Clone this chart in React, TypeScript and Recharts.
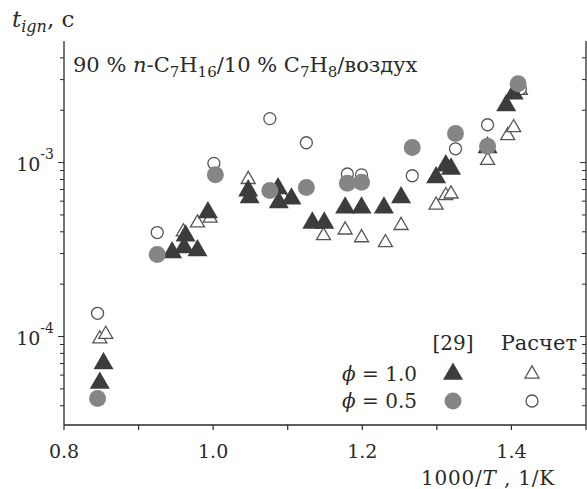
import { ScatterChart, Scatter, XAxis, YAxis } from "recharts";

// [29], phi = 1.0 (filled triangles)
const expPhi1X = [0.853, 0.848, 0.945, 0.963, 0.961, 0.979, 0.993, 1.047, 1.049, 1.087, 1.088, 1.105, 1.133, 1.149, 1.177, 1.199, 1.229, 1.252, 1.299, 1.312, 1.319, 1.368, 1.393, 1.403];
const expPhi1Y = [7.0e-5, 5.4e-5, 3.04e-4, 3.8e-4, 3.25e-4, 3.12e-4, 5.16e-4, 6.9e-4, 6.3e-4, 7.1e-4, 5.9e-4, 6.2e-4, 4.5e-4, 4.5e-4, 5.5e-4, 5.5e-4, 5.5e-4, 6.3e-4, 8.2e-4, 9.6e-4, 9.2e-4, 1.22e-3, 2.13e-3, 2.49e-3];

// [29], phi = 0.5 (filled circles)
const expPhi05X = [0.845, 0.925, 1.003, 1.076, 1.125, 1.18, 1.199, 1.267, 1.325, 1.368, 1.409];
const expPhi05Y = [4.4e-5, 2.96e-4, 8.5e-4, 6.9e-4, 7.2e-4, 7.6e-4, 7.7e-4, 1.22e-3, 1.47e-3, 1.24e-3, 2.84e-3];

// calculation, phi = 1.0 (open triangles)
const calcPhi1X = [0.848, 0.856, 0.96, 0.979, 0.996, 1.047, 1.093, 1.148, 1.177, 1.199, 1.231, 1.252, 1.299, 1.312, 1.319, 1.368, 1.395, 1.403, 1.412];
const calcPhi1Y = [9.7e-5, 1.03e-4, 4.0e-4, 4.5e-4, 4.8e-4, 8.0e-4, 6.4e-4, 3.8e-4, 4.1e-4, 3.7e-4, 3.47e-4, 4.35e-4, 5.7e-4, 6.46e-4, 6.6e-4, 1.03e-3, 1.43e-3, 1.59e-3, 2.6e-3];

// calculation, phi = 0.5 (open circles)
const calcPhi05X = [0.845, 0.925, 1.001, 1.076, 1.125, 1.18, 1.199, 1.267, 1.325, 1.368, 1.412];
const calcPhi05Y = [1.36e-4, 3.96e-4, 9.9e-4, 1.79e-3, 1.3e-3, 8.6e-4, 8.5e-4, 8.4e-4, 1.2e-3, 1.65e-3, 2.66e-3];

const xTicks = [0.8, 0.9, 1.0, 1.1, 1.2, 1.3, 1.4, 1.5];
const xLabels = [0.8, 1.0, 1.2, 1.4];
const yTicks = [4e-5, 5e-5, 6e-5, 7e-5, 8e-5, 9e-5, 1e-4, 2e-4, 3e-4, 4e-4, 5e-4, 6e-4, 7e-4, 8e-4, 9e-4, 1e-3, 2e-3, 3e-3, 4e-3];
const yMajor = [1e-4, 1e-3];

const toPoints = (xs: number[], ys: number[]) => xs.map((x, i) => ({ x, y: ys[i] }));

const FONT = "'DejaVu Serif', 'Liberation Serif', serif";
const DARK = "#3c3c3c";
const GREY = "#858585";
const LINE = "#555";
const INK = "#2a2a2a";

const tri = (cx: number, cy: number, s: number) => {
  const h = s * 0.866;
  return `${cx},${cy - (2 * h) / 3} ${cx - s / 2},${cy + h / 3} ${cx + s / 2},${cy + h / 3}`;
};

const FilledTri = (p: any) => <polygon points={tri(p.cx, p.cy, 20)} fill={DARK} />;
const OpenTri = (p: any) => <polygon points={tri(p.cx, p.cy, 14)} fill="#fff" stroke={LINE} strokeWidth={1.3} />;
const FilledDot = (p: any) => <circle cx={p.cx} cy={p.cy} r={8.5} fill={GREY} />;
const OpenDot = (p: any) => <circle cx={p.cx} cy={p.cy} r={6} fill="#fff" stroke={LINE} strokeWidth={1.3} />;

const XTick = (p: any) => {
  const v = p.payload.value;
  const show = xLabels.some((l) => Math.abs(l - v) < 1e-6);
  return (
    <g>
      <line x1={p.x} x2={p.x} y1={p.y} y2={p.y + 5} stroke={INK} strokeWidth={1.2} />
      {show && (
        <text x={p.x} y={p.y + 33} textAnchor="middle" fontFamily={FONT} fontSize={19} fill={INK}>
          {v.toFixed(1)}
        </text>
      )}
    </g>
  );
};

const YTickLeft = (p: any) => {
  const v = p.payload.value;
  const major = yMajor.some((m) => Math.abs(m - v) / m < 1e-6);
  const exp = Math.round(Math.log10(v));
  return (
    <g>
      <line x1={p.x - (major ? 6 : 4)} x2={p.x} y1={p.y} y2={p.y} stroke={INK} strokeWidth={1} />
      {major && (
        <text x={p.x - 10} y={p.y + 8} textAnchor="end" fontFamily={FONT} fontSize={19} fill={INK}>
          10
          <tspan dy={-12} fontSize={14}>
            {"-" + Math.abs(exp)}
          </tspan>
        </text>
      )}
    </g>
  );
};

const YTickRight = (p: any) => {
  const v = p.payload.value;
  const major = yMajor.some((m) => Math.abs(m - v) / m < 1e-6);
  return <line x1={p.x - (major ? 6 : 4)} x2={p.x} y1={p.y} y2={p.y} stroke={INK} strokeWidth={1} />;
};

const Overlay = () => (
  <svg width={587} height={489} style={{ position: "absolute", left: 0, top: 0, pointerEvents: "none" }}>
    <g fontFamily={FONT} fill={INK}>
      <text x={12} y={27} fontSize={23}>
        <tspan fontStyle="italic">t</tspan>
        <tspan fontStyle="italic" fontSize={16} dy={5}>ign</tspan>
        <tspan dy={-5}>, c</tspan>
      </text>
      <text x={73} y={72} fontSize={21}>
        90 % <tspan fontStyle="italic">n</tspan>-C
        <tspan fontSize={15} dy={5}>7</tspan>
        <tspan dy={-5}>H</tspan>
        <tspan fontSize={15} dy={5}>16</tspan>
        <tspan dy={-5}>/10 % C</tspan>
        <tspan fontSize={15} dy={5}>7</tspan>
        <tspan dy={-5}>H</tspan>
        <tspan fontSize={15} dy={5}>8</tspan>
        <tspan dy={-5}>/воздух</tspan>
      </text>
      <text x={555} y={485} fontSize={20} textAnchor="end" letterSpacing={0.8}>
        1000/<tspan fontStyle="italic">T</tspan> , 1/K
      </text>
      <text x={453} y={350} fontSize={20} textAnchor="middle">[29]</text>
      <text x={577} y={350} fontSize={21} textAnchor="end">Расчет</text>
      <text x={417} y={381} fontSize={20} textAnchor="end">
        <tspan fontStyle="italic">ϕ</tspan> = 1.0
      </text>
      <text x={417} y={408} fontSize={20} textAnchor="end">
        <tspan fontStyle="italic">ϕ</tspan> = 0.5
      </text>
    </g>
    <FilledTri cx={453} cy={374} />
    <FilledDot cx={453} cy={401} />
    <OpenTri cx={532} cy={374} />
    <OpenDot cx={532} cy={401} />
  </svg>
);

export default function App() {
  return (
    <div style={{ position: "absolute", left: 0, top: 0, width: 587, height: 489, background: "#fff" }}>
      <ScatterChart width={587} height={489} margin={{ top: 41, right: 0, left: 0, bottom: 0 }}>
        <XAxis
          xAxisId="b"
          dataKey="x"
          type="number"
          domain={[0.8, 1.5]}
          ticks={xTicks}
          interval={0}
          height={64}
          tickSize={0}
          tickMargin={0}
          tickLine={false}
          axisLine={{ stroke: INK, strokeWidth: 1.3 }}
          tick={<XTick />}
          allowDataOverflow
        />
        <XAxis xAxisId="t" orientation="top" dataKey="x" type="number" domain={[0.8, 1.5]} height={0} tick={false} tickLine={false} axisLine={{ stroke: INK, strokeWidth: 1.3 }} />
        <YAxis
          yAxisId="l"
          dataKey="y"
          type="number"
          scale="log"
          domain={[3.1e-5, 5e-3]}
          ticks={yTicks}
          interval={0}
          width={64}
          tickSize={0}
          tickMargin={0}
          tickLine={false}
          axisLine={{ stroke: INK, strokeWidth: 1.3 }}
          tick={<YTickLeft />}
          allowDataOverflow
        />
        <YAxis
          yAxisId="r"
          orientation="right"
          dataKey="y"
          type="number"
          scale="log"
          domain={[3.1e-5, 5e-3]}
          ticks={yTicks}
          interval={0}
          width={1}
          tickSize={0}
          tickMargin={0}
          tickLine={false}
          axisLine={{ stroke: INK, strokeWidth: 1.3 }}
          tick={<YTickRight />}
          allowDataOverflow
        />
        <Scatter xAxisId="b" yAxisId="l" data={toPoints(calcPhi1X, calcPhi1Y)} shape={OpenTri} isAnimationActive={false} />
        <Scatter xAxisId="b" yAxisId="l" data={toPoints(calcPhi05X, calcPhi05Y)} shape={OpenDot} isAnimationActive={false} />
        <Scatter xAxisId="b" yAxisId="l" data={toPoints(expPhi1X, expPhi1Y)} shape={FilledTri} isAnimationActive={false} />
        <Scatter xAxisId="b" yAxisId="l" data={toPoints(expPhi05X, expPhi05Y)} shape={FilledDot} isAnimationActive={false} />
      </ScatterChart>
      <Overlay />
    </div>
  );
}
